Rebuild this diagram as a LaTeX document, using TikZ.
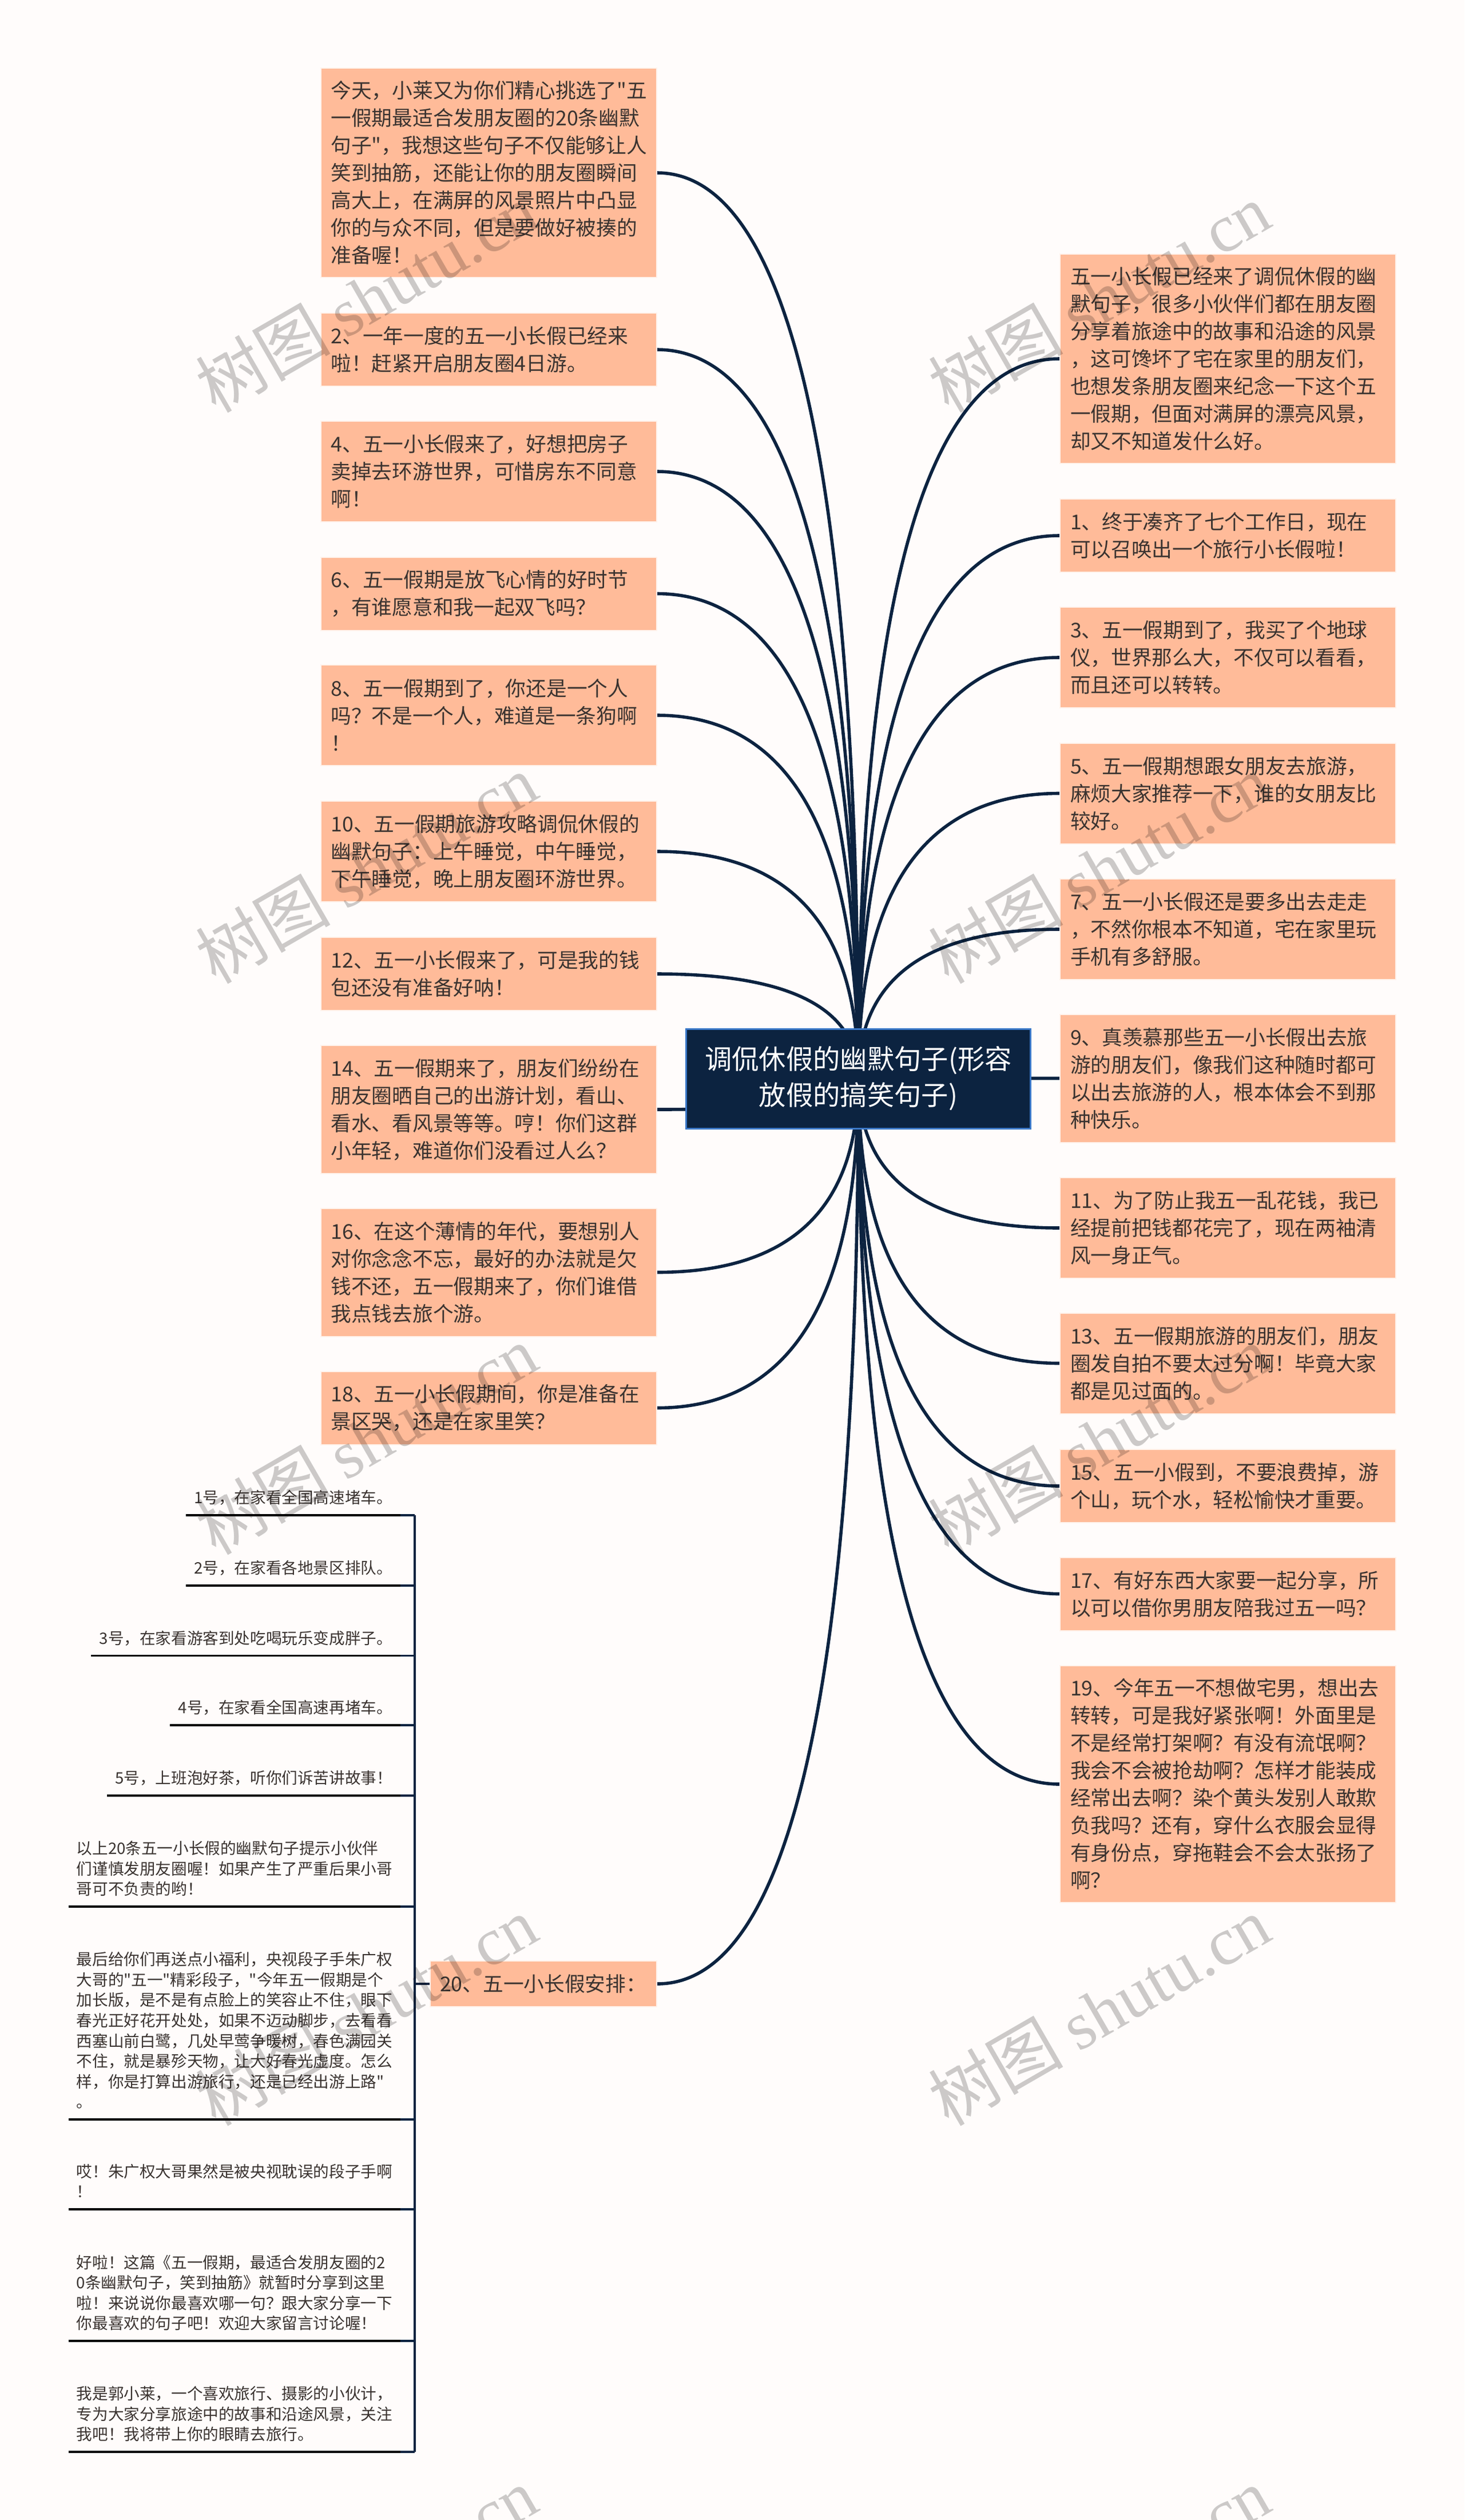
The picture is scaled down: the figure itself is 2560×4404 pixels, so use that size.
\documentclass[tikz,border=0pt]{standalone}
\usepackage{fontspec}
\setmainfont[Ligatures=TeXOff]{Noto Sans CJK SC}
\newfontfamily\markfont{Liberation Serif}
\usetikzlibrary{backgrounds, calc}

\definecolor{pagebg}{HTML}{FFFCFB}
\definecolor{navy}{HTML}{0C2340}
\definecolor{rootedge}{HTML}{3B78C8}
\definecolor{peach}{HTML}{FFBB99}
\definecolor{peachedge}{HTML}{FFF3EC}
\definecolor{inktext}{HTML}{3A3330}

\begin{document}
\begin{tikzpicture}[
          x=1pt, y=-1pt,
          rootbox/.style={fill=navy, draw=rootedge, line width=3, text=white, align=center,
            minimum width=602, minimum height=174, font=\fontsize{47.3}{63}\selectfont},
          leafbox/.style={fill=peach, draw=peachedge, line width=2, text=inktext, align=left,
            text width=551, inner xsep=18, inner ysep=0, font=\fontsize{35.7}{48}\selectfont},
          notebox/.style={anchor=south east, text=inktext, align=left, inner xsep=14, inner ysep=12,
            text depth=8, font=\fontsize{27.6}{35.6}\selectfont},
          link/.style={draw=navy, line width=5.6},
          spoke/.style={draw=navy, line width=3.6},
          rule/.style={draw=black, line width=3.6},
          markbox/.style={rotate=30, text=black, opacity=0.2, font=\fontsize{118}{118}\selectfont}
        ]
        \useasboundingbox (0,0) rectangle (2560,4404);

        \node[rootbox] (root) at (1500.5,1885) {调侃休假的幽默句子(形容\\放假的搞笑句子)};

        % left column
        \node[leafbox, minimum height=366] (l1) at (854,302) {今天，小莱又为你们精心挑选了"五\\一假期最适合发朋友圈的20条幽默\\句子"，我想这些句子不仅能够让人\\笑到抽筋，还能让你的朋友圈瞬间\\高大上，在满屏的风景照片中凸显\\你的与众不同，但是要做好被揍的\\准备喔！};
        \node[leafbox, minimum height=128] (l2) at (854,611) {2、一年一度的五一小长假已经来\\啦！赶紧开启朋友圈4日游。};
        \node[leafbox, minimum height=176] (l4) at (854,824) {4、五一小长假来了，好想把房子\\卖掉去环游世界，可惜房东不同意\\啊！};
        \node[leafbox, minimum height=128] (l6) at (854,1037.5) {6、五一假期是放飞心情的好时节\\，有谁愿意和我一起双飞吗？};
        \node[leafbox, minimum height=176] (l8) at (854,1250) {8、五一假期到了，你还是一个人\\吗？不是一个人，难道是一条狗啊\\！};
        \node[leafbox, minimum height=176] (l10) at (854,1488) {10、五一假期旅游攻略调侃休假的\\幽默句子：上午睡觉，中午睡觉，\\下午睡觉，晚上朋友圈环游世界。};
        \node[leafbox, minimum height=128] (l12) at (854,1702) {12、五一小长假来了，可是我的钱\\包还没有准备好呐！};
        \node[leafbox, minimum height=224] (l14) at (854,1939) {14、五一假期来了，朋友们纷纷在\\朋友圈晒自己的出游计划，看山、\\看水、看风景等等。哼！你们这群\\小年轻，难道你们没看过人么？};
        \node[leafbox, minimum height=224] (l16) at (854,2223.5) {16、在这个薄情的年代，要想别人\\对你念念不忘，最好的办法就是欠\\钱不还，五一假期来了，你们谁借\\我点钱去旅个游。};
        \node[leafbox, minimum height=128] (l18) at (854,2460.5) {18、五一小长假期间，你是准备在\\景区哭，还是在家里笑？};
        \node[leafbox, minimum height=80, text width=362, inner xsep=17] (l20) at (950,3467) {20、五一小长假安排：};

        % right column
        \node[leafbox, minimum height=366] (r0) at (2146.5,627) {五一小长假已经来了调侃休假的幽\\默句子，很多小伙伴们都在朋友圈\\分享着旅途中的故事和沿途的风景\\，这可馋坏了宅在家里的朋友们，\\也想发条朋友圈来纪念一下这个五\\一假期，但面对满屏的漂亮风景，\\却又不知道发什么好。};
        \node[leafbox, minimum height=128] (r1) at (2146.5,936) {1、终于凑齐了七个工作日，现在\\可以召唤出一个旅行小长假啦！};
        \node[leafbox, minimum height=176] (r3) at (2146.5,1149) {3、五一假期到了，我买了个地球\\仪，世界那么大，不仅可以看看，\\而且还可以转转。};
        \node[leafbox, minimum height=176] (r5) at (2146.5,1386.5) {5、五一假期想跟女朋友去旅游，\\麻烦大家推荐一下，谁的女朋友比\\较好。};
        \node[leafbox, minimum height=176] (r7) at (2146.5,1624) {7、五一小长假还是要多出去走走\\，不然你根本不知道，宅在家里玩\\手机有多舒服。};
        \node[leafbox, minimum height=224] (r9) at (2146.5,1884.5) {9、真羡慕那些五一小长假出去旅\\游的朋友们，像我们这种随时都可\\以出去旅游的人，根本体会不到那\\种快乐。};
        \node[leafbox, minimum height=176] (r11) at (2146.5,2146) {11、为了防止我五一乱花钱，我已\\经提前把钱都花完了，现在两袖清\\风一身正气。};
        \node[leafbox, minimum height=176] (r13) at (2146.5,2382.5) {13、五一假期旅游的朋友们，朋友\\圈发自拍不要太过分啊！毕竟大家\\都是见过面的。};
        \node[leafbox, minimum height=128] (r15) at (2146.5,2597) {15、五一小假到，不要浪费掉，游\\个山，玩个水，轻松愉快才重要。};
        \node[leafbox, minimum height=128] (r17) at (2146.5,2785.5) {17、有好东西大家要一起分享，所\\以可以借你男朋友陪我过五一吗？};
        \node[leafbox, minimum height=414] (r19) at (2146.5,3118) {19、今年五一不想做宅男，想出去\\转转，可是我好紧张啊！外面里是\\不是经常打架啊？有没有流氓啊？\\我会不会被抢劫啊？怎样才能装成\\经常出去啊？染个黄头发别人敢欺\\负我吗？还有，穿什么衣服会显得\\有身份点，穿拖鞋会不会太张扬了\\啊？};

        % notes under item 20
        \coordinate (spinetop) at (725,2648);
        \coordinate (spineend) at (725,4285);
        \node[notebox] (n1) at (700,2648) {1号，在家看全国高速堵车。};
        \node[notebox] (n2) at (700,2771) {2号，在家看各地景区排队。};
        \node[notebox] (n3) at (700,2893.5) {3号，在家看游客到处吃喝玩乐变成胖子。};
        \node[notebox] (n4) at (700,3015) {4号，在家看全国高速再堵车。};
        \node[notebox] (n5) at (700,3138) {5号，上班泡好茶，听你们诉苦讲故事！};
        \node[notebox] (n6) at (700,3332) {以上20条五一小长假的幽默句子提示小伙伴\\们谨慎发朋友圈喔！如果产生了严重后果小哥\\哥可不负责的哟！};
        \node[notebox] (n7) at (700,3704) {最后给你们再送点小福利，央视段子手朱广权\\大哥的"五一"精彩段子，"今年五一假期是个\\加长版，是不是有点脸上的笑容止不住，眼下\\春光正好花开处处，如果不迈动脚步，去看看\\西塞山前白鹭，几处早莺争暖树，春色满园关\\不住，就是暴殄天物，让大好春光虚度。怎么\\样，你是打算出游旅行，还是已经出游上路"\\。};
        \node[notebox] (n8) at (700,3861) {哎！朱广权大哥果然是被央视耽误的段子手啊\\！};
        \node[notebox] (n9) at (700,4091) {好啦！这篇《五一假期，最适合发朋友圈的2\\0条幽默句子，笑到抽筋》就暂时分享到这里\\啦！来说说你最喜欢哪一句？跟大家分享一下\\你最喜欢的句子吧！欢迎大家留言讨论喔！};
        \node[notebox] (n10) at (700,4285) {我是郭小莱，一个喜欢旅行、摄影的小伙计，\\专为大家分享旅途中的故事和沿途风景，关注\\我吧！我将带上你的眼睛去旅行。};

        \begin{pgfonlayer}{background}
          \fill[pagebg] (0,0) rectangle (2560,4404);
          \foreach \leaf/\side in {l1/east,l2/east,l4/east,l6/east,l8/east,l10/east,l12/east,l14/east,l16/east,l18/east,l20/east,
                                   r0/west,r1/west,r3/west,r5/west,r7/west,r9/west,r11/west,r13/west,r15/west,r17/west,r19/west}
            \draw[link] (root.center) .. controls ($(root.center)!2/3!(root.center |- \leaf.\side)$)
              and ($(\leaf.\side)!2/3!(root.center |- \leaf.\side)$) .. (\leaf.\side);
          \draw[spoke] (spinetop) -- (spineend);
          \draw[spoke] (l20.west) -- (l20.west -| spinetop);
          \foreach \note in {n1,n2,n3,n4,n5,n6,n7,n8,n9,n10} {
            \draw[rule] (\note.south west) -- (\note.south east);
            \draw[spoke] (\note.south east) -- (\note.south east -| spinetop);
          }
        \end{pgfonlayer}

        % watermark, one tile every 1281 by 998
        \foreach \markx in {640,1921}
          \foreach \marky in {520,1518,2516,3514,4512}
            \node[markbox] (mark\markx\marky) at (\markx,\marky) {树图 {\markfont shutu.cn}};
        \end{tikzpicture}
\end{document}
